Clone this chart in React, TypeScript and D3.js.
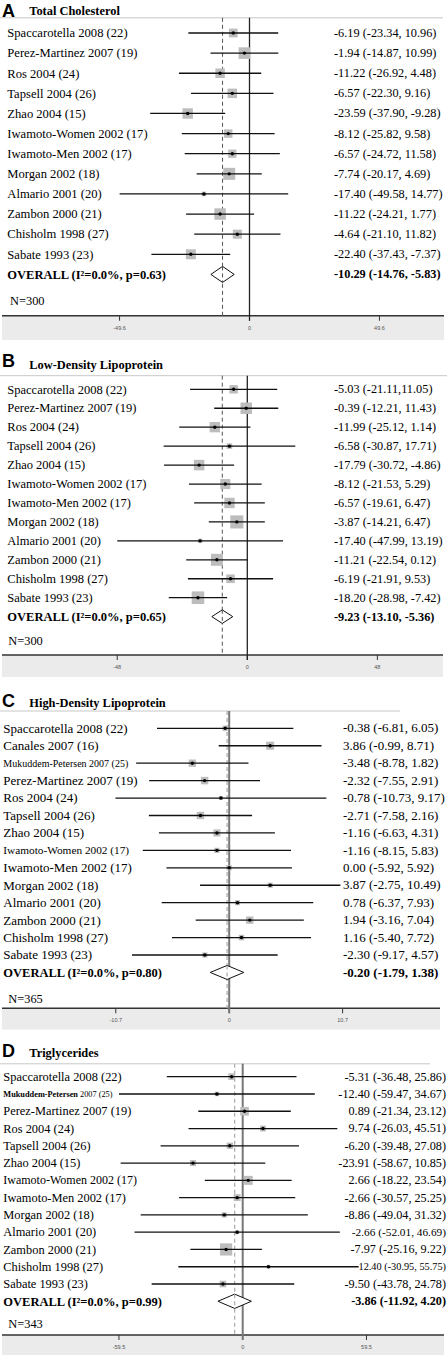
import React from 'react';
import * as d3 from 'd3';

// ---------- Panel A: Total Cholesterol ----------
const studiesA = ['Spaccarotella 2008 (22)', 'Perez-Martinez 2007 (19)', 'Ros 2004 (24)', 'Tapsell 2004 (26)', 'Zhao 2004 (15)', 'Iwamoto-Women 2002 (17)', 'Iwamoto-Men 2002 (17)', 'Morgan 2002 (18)', 'Almario 2001 (20)', 'Zambon 2000 (21)', 'Chisholm 1998 (27)', 'Sabate 1993 (23)'];
const estA = [-6.19, -1.94, -11.22, -6.57, -23.59, -8.12, -6.57, -7.74, -17.4, -11.22, -4.64, -22.4];
const lowA = [-23.34, -14.87, -26.92, -22.3, -37.9, -25.82, -24.72, -20.17, -49.58, -24.21, -21.1, -37.43];
const highA = [10.96, 10.99, 4.48, 9.16, -9.28, 9.58, 11.58, 4.69, 14.77, 1.77, 11.82, -7.37];
const weightA = [6.8, 12.0, 8.1, 8.1, 9.7, 6.4, 6.1, 12.9, 1.9, 11.8, 7.3, 8.9];
const overallA = [-10.29, -14.76, -5.83];
const hetA = ['0.0%', '0.63'];
const nA = 300;
const ticksA = [-49.6, 0, 49.6];

// ---------- Panel B: Low-Density Lipoprotein ----------
const studiesB = ['Spaccarotella 2008 (22)', 'Perez-Martinez 2007 (19)', 'Ros 2004 (24)', 'Tapsell 2004 (26)', 'Zhao 2004 (15)', 'Iwamoto-Women 2002 (17)', 'Iwamoto-Men 2002 (17)', 'Morgan 2002 (18)', 'Almario 2001 (20)', 'Zambon 2000 (21)', 'Chisholm 1998 (27)', 'Sabate 1993 (23)'];
const estB = [-5.03, -0.39, -11.99, -6.58, -17.79, -8.12, -6.57, -3.87, -17.4, -11.21, -6.19, -18.2];
const lowB = [-21.11, -12.21, -25.12, -30.87, -30.72, -21.53, -19.61, -14.21, -47.99, -22.54, -21.91, -28.98];
const highB = [11.05, 11.43, 1.14, 17.71, -4.86, 5.29, 6.47, 6.47, 13.19, 0.12, 9.53, -7.42];
const weightB = [5.8, 10.7, 8.7, 2.5, 9.0, 8.3, 8.8, 14.0, 1.6, 11.7, 6.0, 12.9];
const overallB = [-9.23, -13.1, -5.36];
const hetB = ['0.0%', '0.65'];
const nB = 300;
const ticksB = [-48, 0, 48];

// ---------- Panel C: High-Density Lipoprotein ----------
const studiesC = ['Spaccarotella 2008 (22)', 'Canales 2007 (16)', 'Mukuddem-Petersen 2007 (25)', 'Perez-Martinez 2007 (19)', 'Ros 2004 (24)', 'Tapsell 2004 (26)', 'Zhao 2004 (15)', 'Iwamoto-Women 2002 (17)', 'Iwamoto-Men 2002 (17)', 'Morgan 2002 (18)', 'Almario 2001 (20)', 'Zambon 2000 (21)', 'Chisholm 1998 (27)', 'Sabate 1993 (23)'];
const estC = [-0.38, 3.86, -3.48, -2.32, -0.78, -2.71, -1.16, -1.16, 0.0, 3.87, 0.78, 1.94, 1.16, -2.3];
const lowC = [-6.81, -0.99, -8.78, -7.55, -10.73, -7.58, -6.63, -8.15, -5.92, -2.75, -6.37, -3.16, -5.4, -9.17];
const highC = [6.05, 8.71, 1.82, 2.91, 9.17, 2.16, 4.31, 5.83, 5.92, 10.49, 7.93, 7.04, 7.72, 4.57];
const weightC = [4.5, 10.7, 8.9, 9.2, 2.5, 9.0, 8.4, 4.5, 4.5, 4.3, 4.3, 9.0, 5.0, 4.5];
const overallC = [-0.2, -1.79, 1.38];
const hetC = ['0.0%', '0.80'];
const nC = 365;
const ticksC = [-10.7, 0, 10.7];

// ---------- Panel D: Triglycerides ----------
const studiesD = ['Spaccarotella 2008 (22)', 'Mukuddem-Petersen 2007 (25)', 'Perez-Martinez 2007 (19)', 'Ros 2004 (24)', 'Tapsell 2004 (26)', 'Zhao 2004 (15)', 'Iwamoto-Women 2002 (17)', 'Iwamoto-Men 2002 (17)', 'Morgan 2002 (18)', 'Almario 2001 (20)', 'Zambon 2000 (21)', 'Chisholm 1998 (27)', 'Sabate 1993 (23)'];
const estD = [-5.31, -12.4, 0.89, 9.74, -6.2, -23.91, 2.66, -2.66, -8.86, -2.66, -7.97, 12.4, -9.5];
const lowD = [-36.48, -59.47, -21.34, -26.03, -39.48, -58.67, -18.22, -30.57, -49.04, -52.01, -25.16, -30.95, -43.78];
const highD = [25.86, 34.67, 23.12, 45.51, 27.08, 10.85, 23.54, 25.25, 31.32, 46.69, 9.22, 55.75, 24.78];
const weightD = [6.7, 2.9, 11.0, 5.1, 5.9, 5.4, 12.0, 7.0, 4.0, 2.5, 22.0, 2.0, 6.5];
const overallD = [-3.86, -11.92, 4.2];
const hetD = ['0.0%', '0.99'];
const nD = 343;
const ticksD = [-59.5, 0, 59.5];

const titles = ['Total Cholesterol', 'Low-Density Lipoprotein', 'High-Density Lipoprotein', 'Triglycerides'];
const letters = ['A', 'B', 'C', 'D'];

// ---------- layout / style (not data) ----------
const layouts = [
  { letterY: 16.7, titleY: 15, headerY: 17.8, headerX2: 443, firstRow: 33, lastRow: 254.3, axisY: 315.7, bandY2: 340, bandX2: 444, nY: 300.7, zeroX: 249.5, ppu: 2.62, boxK: 3.34, labelX: 7.3, labelSize: 12.6, valueX: 334, valueAnchor: 'start', valueSize: 12.3, diamondH: 16, zeroColor: '#222', zeroW: 1.3, dashColor: '#555', dashW: 1, nX: 10 },
  { letterY: 367.3, titleY: 368.5, headerY: 375.7, headerX2: 447, firstRow: 389.3, lastRow: 597.7, axisY: 655, bandY2: 677, bandX2: 443, nY: 641, zeroX: 247.3, ppu: 2.71, boxK: 3.5, labelX: 7.3, labelSize: 12.5, valueX: 334, valueAnchor: 'start', valueSize: 12.3, diamondH: 13.5, zeroColor: '#222', zeroW: 1.3, dashColor: '#555', dashW: 1, nX: 8.3 },
  { letterY: 707.3, titleY: 707.3, headerY: 711, headerX2: 400, firstRow: 728.3, lastRow: 955, axisY: 1008.3, bandY2: 1029.5, bandX2: 440, nY: 999, zeroX: 229.2, ppu: 10.6, boxK: 2.45, labelX: 3.3, labelSize: 13, valueX: 343, valueAnchor: 'start', valueSize: 13, diamondH: 14, zeroColor: '#777', zeroW: 2, dashColor: '#aaa', dashW: 1.2, nX: 8.3 },
  { letterY: 1057.3, titleY: 1056.7, headerY: 1063.8, headerX2: 430, firstRow: 1076.7, lastRow: 1284, axisY: 1335, bandY2: 1355, bandX2: 444, nY: 1324, zeroX: 242.7, ppu: 2.08, boxK: 2.6, labelX: 3.3, labelSize: 12.4, valueX: 446, valueAnchor: 'end', valueSize: 12.2, diamondH: 14.3, zeroColor: '#777', zeroW: 2, dashColor: '#aaa', dashW: 1.2, nX: 8.3 },
];

// per-row text overrides (styles only)
const labelOverrides = [
  {},
  {},
  { 2: { size: 10 }, 7: { size: 11.3 } },
  { 1: { size: 8.3, boldFirst: true }, 6: { size: 12 } },
];
const valueOverrides = [
  {},
  { 0: { sep: ',' } },
  {},
  { 9: { size: 11.3 }, 11: { size: 10.3 } },
];

const panels = [
  { studies: studiesA, est: estA, low: lowA, high: highA, weight: weightA, overall: overallA, het: hetA, n: nA, ticks: ticksA },
  { studies: studiesB, est: estB, low: lowB, high: highB, weight: weightB, overall: overallB, het: hetB, n: nB, ticks: ticksB },
  { studies: studiesC, est: estC, low: lowC, high: highC, weight: weightC, overall: overallC, het: hetC, n: nC, ticks: ticksC },
  { studies: studiesD, est: estD, low: lowD, high: highD, weight: weightD, overall: overallD, het: hetD, n: nD, ticks: ticksD },
];

const SERIF = '"Liberation Serif", "Times New Roman", serif';
const SANS = '"Liberation Sans", Arial, sans-serif';

const f2 = (v: number) => v.toFixed(2);

function Panel({ idx }: { idx: number }) {
  const d = panels[idx];
  const L: any = layouts[idx];
  const lo: any = labelOverrides[idx];
  const vo: any = valueOverrides[idx];
  const tmax = d.ticks[d.ticks.length - 1];
  const x = d3.scaleLinear().domain([-tmax, tmax]).range([L.zeroX - tmax * L.ppu, L.zeroX + tmax * L.ppu]);
  const n = d.studies.length;
  const y = d3.scaleLinear().domain([0, n - 1]).range([L.firstRow, L.lastRow]);
  const side = d3.scaleSqrt().domain([0, 1]).range([0, L.boxK]);
  const oy = y(n);
  const [oe, ol, oh] = d.overall;
  const dh = L.diamondH / 2;
  const diamond = d3.line()([
    [x(ol), oy], [x(oe), oy - dh], [x(oh), oy], [x(oe), oy + dh], [x(ol), oy],
  ] as [number, number][]) + 'Z';

  return (
    <g>
      {/* title */}
      <text x={2} y={L.letterY} fontFamily={SANS} fontWeight="bold" fontSize={18} fill="#000">{letters[idx]}</text>
      <text x={29.3} y={L.titleY} fontFamily={SERIF} fontWeight="bold" fontSize={12.4} fill="#000">{titles[idx]}</text>
      <line x1={0} x2={L.headerX2} y1={L.headerY} y2={L.headerY} stroke="#c8c8c8" strokeWidth={1} />

      {/* bottom band */}
      <rect x={2} y={L.axisY} width={L.bandX2 - 2} height={L.bandY2 - L.axisY} fill="#ebebeb" />
      <line x1={2} x2={L.bandX2} y1={L.axisY} y2={L.axisY} stroke="#333" strokeWidth={1.4} />
      {d.ticks.map((t, i) => (
        <g key={i}>
          <line x1={x(t)} x2={x(t)} y1={L.axisY} y2={L.axisY + 5} stroke="#333" strokeWidth={1} />
          <text x={x(t)} y={L.axisY + 14} textAnchor="middle" fontFamily={SANS} fontSize={5.5} fill="#555">{t}</text>
        </g>
      ))}

      {/* reference lines */}
      <line x1={x(0)} x2={x(0)} y1={L.headerY} y2={L.axisY + 5} stroke={L.zeroColor} strokeWidth={L.zeroW} />
      <line x1={x(oe)} x2={x(oe)} y1={L.headerY} y2={L.axisY} stroke={L.dashColor} strokeWidth={L.dashW} strokeDasharray="4,3" />

      {/* studies */}
      {d.studies.map((s, i) => {
        const yi = y(i);
        const ov = lo[i] || {};
        const fs = ov.size || L.labelSize;
        const vv = vo[i] || {};
        const vfs = vv.size || L.valueSize;
        const sep = vv.sep ?? ', ';
        const w = side(d.weight[i]);
        let labelContent: any = s;
        if (ov.boldFirst) {
          const sp = s.indexOf(' ');
          labelContent = [<tspan key="a" fontWeight="bold">{s.slice(0, sp)}</tspan>, <tspan key="b">{s.slice(sp)}</tspan>];
        }
        return (
          <g key={i}>
            <text x={L.labelX} y={yi + 0.34 * fs} fontFamily={SERIF} fontSize={fs} fill="#000">{labelContent}</text>
            <rect x={x(d.est[i]) - w / 2} y={yi - w / 2} width={w} height={w} fill="#bdbdbd" />
            <line x1={x(d.low[i])} x2={x(d.high[i])} y1={yi} y2={yi} stroke="#111" strokeWidth={1.3} />
            <circle cx={x(d.est[i])} cy={yi} r={1.7} fill="#000" />
            <text x={L.valueX} y={yi + 0.32 * vfs} textAnchor={L.valueAnchor} fontFamily={SERIF} fontSize={vfs} fill="#000">
              {`${f2(d.est[i])} (${f2(d.low[i])}${sep}${f2(d.high[i])})`}
            </text>
          </g>
        );
      })}

      {/* overall */}
      <path d={diamond} fill="#fff" stroke="#111" strokeWidth={1} />
      <line x1={x(oe)} x2={x(oe)} y1={oy - dh} y2={oy + dh} stroke={L.dashColor} strokeWidth={L.dashW} strokeDasharray="4,3" />
      <text x={L.labelX} y={oy + 0.34 * 12.5} fontFamily={SERIF} fontWeight="bold" fontSize={12.5} fill="#000">
        {`OVERALL (I\u00B2=${d.het[0]}, p=${d.het[1]})`}
      </text>
      <text x={L.valueX} y={oy + 0.32 * L.valueSize} textAnchor={L.valueAnchor} fontFamily={SERIF} fontWeight="bold" fontSize={L.valueSize} fill="#000">
        {`${f2(oe)} (${f2(ol)}, ${f2(oh)})`}
      </text>
      <text x={L.nX} y={L.nY + 0.34 * 12.4} fontFamily={SERIF} fontSize={12.4} fill="#000">{`N=${d.n}`}</text>
    </g>
  );
}

export default function App() {
  return (
    <svg width={448} height={1355} viewBox="0 0 448 1355" style={{ position: 'absolute', left: 0, top: 0, display: 'block', background: '#fff' }}>
      <rect x={0} y={0} width={448} height={1355} fill="#fff" />
      {panels.map((_, i) => <Panel key={i} idx={i} />)}
    </svg>
  );
}
